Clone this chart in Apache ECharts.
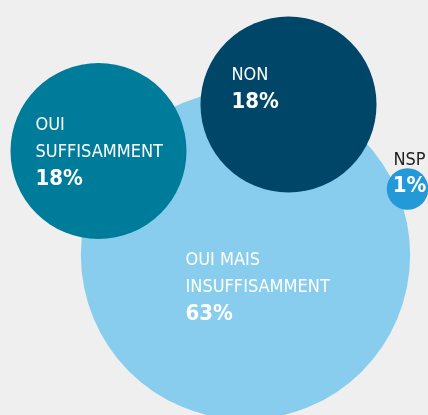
<!DOCTYPE html>
<html>
<head>
<meta charset="utf-8">
<script src="https://cdn.jsdelivr.net/npm/echarts@6/dist/echarts.min.js"></script>
<style>
  html, body { margin: 0; padding: 0; background: #efefef; }
  #bubbles { width: 428px; height: 415px; }
</style>
</head>
<body>
<div id="bubbles"></div>
<script>
  // Data
  const categories = ['OUI MAIS\nINSUFFISAMMENT', 'OUI\nSUFFISAMMENT', 'NON', 'NSP']
  const values = [63, 18, 18, 1]
  const colors = ['#88cded', '#007c9b', '#004668', '#2399d8']

  // layout: bubble centres in pixel space of the grid
  const centers = [[245.5, 255], [98.5, 151], [288.5, 104.5], [407.5, 189]]
  // label offset from bubble centre
  const labelOffsets = [[-60, 32], [-63, 1], [-57, -16], [2, -16]]

  const font = "'Liberation Sans Narrow', 'DejaVu Sans Condensed', Roboto, sans-serif"
  // radius 88px for 18%, area proportional to value
  const k = 2 * 88 / Math.sqrt(18)

  const seriesData = values.map((v, i) => {
    const isSmall = i === 3
    return {
      name: categories[i],
      value: [centers[i][0], centers[i][1], v],
      symbolSize: k * Math.sqrt(v),
      itemStyle: { color: colors[i], opacity: 1 },
      label: {
        show: true,
        position: 'inside',
        align: isSmall ? 'center' : 'left',
        verticalAlign: 'middle',
        offset: labelOffsets[i],
        formatter: () => {
          const lines = categories[i].split('\n').map(t => (isSmall ? '{n|' : '{a|') + t + '}')
          return lines.join('\n') + '\n{b|' + v + '%}'
        },
        rich: {
          a: { color: '#ffffff', fontFamily: font, fontSize: 18, lineHeight: 27, align: isSmall ? 'center' : 'left' },
          n: { color: '#222222', fontFamily: font, fontSize: 18, lineHeight: 26, align: 'center' },
          b: { color: '#ffffff', fontFamily: font, fontSize: 22, fontWeight: 'bold', lineHeight: 26, align: isSmall ? 'center' : 'left' }
        }
      }
    }
  })

  const option = {
    backgroundColor: '#efefef',
    animation: false,
    grid: { left: 0, right: 0, top: 0, bottom: 0 },
    xAxis: { type: 'value', min: 0, max: 428, show: false },
    yAxis: { type: 'value', min: 0, max: 415, inverse: true, show: false },
    series: [{
      type: 'scatter',
      symbol: 'circle',
      data: seriesData,
      emphasis: { disabled: true }
    }]
  }

  const chart = echarts.init(document.getElementById('bubbles'))
  chart.setOption(option)
</script>
</body>
</html>
